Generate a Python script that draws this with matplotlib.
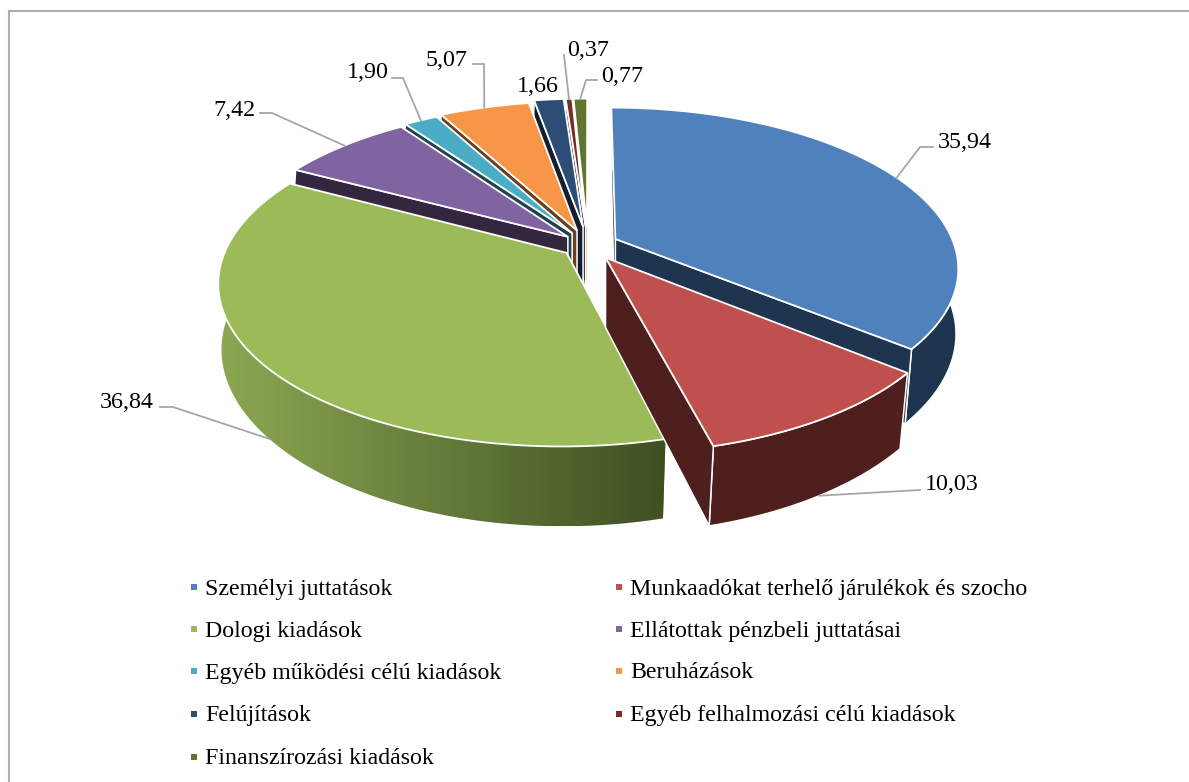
import numpy as np
import matplotlib
matplotlib.use("Agg")
import matplotlib.pyplot as plt
from matplotlib.patches import Polygon, Rectangle
from matplotlib.colors import to_rgb

categories = ["Személyi juttatások", "Munkaadókat terhelő járulékok és szocho",
              "Dologi kiadások", "Ellátottak pénzbeli juttatásai",
              "Egyéb működési célú kiadások", "Beruházások", "Felújítások",
              "Egyéb felhalmozási célú kiadások", "Finanszírozási kiadások"]
values = [35.94, 10.03, 36.84, 7.42, 1.90, 5.07, 1.66, 0.37, 0.77]

top_colors = ["#4F81BD", "#C0504D", "#9BBB59", "#8064A2", "#4BACC6",
              "#F79646", "#2C4D75", "#772C2A", "#5F7530"]
side_colors = ["#1F344F", "#4F1F1E", "#66803A", "#33273F", "#1E4450",
               "#6B3F1C", "#131F30", "#301312", "#3A471D"]
explode = [0.09, 0.095, 0.08, 0.08, 0.09, 0.10, 0.12, 0.12, 0.12]
draw_order = [8, 7, 6, 5, 4, 3, 0, 2, 1]
# which cut face of the slice looks at the viewer, 0 = first edge, -1 = last edge
front_cut = [-1, -1, -1, 0, 0, 0, 0, 0, 0]

# label text position, leader elbow (None = no elbow), rim the leader goes to
label_pos = [(938, 142), (925, 484), (100, 403), (213, 111), (347, 73),
             (426, 60), (517, 86), (567, 50), (601, 76)]
leader_start = [(933, 147), (920, 490), (160, 407), (260, 113), (392, 78),
                (473, 64), None, (564, 55), (597, 80)]
leader_elbow = [(920, 147), None, (173, 407), (272, 113), (403, 78),
                (484, 64), None, None, (586, 80)]
leader_bottom = [False, True, True, False, False, False, False, False, False]

legend_x = [191, 616]
legend_y = [587, 629, 671, 714, 757]

cx, cy = 588, 245
rx, ry = 339, 156.5
persp = 0.176
depth = 69
shrink = 0.976
FONT = "Liberation Serif"


def project(X, Y, bottom=False):
    s = 1 / (1 - persp * Y)
    if bottom:
        return cx + rx * X * s * (0.998 - 0.03 * Y), cy + ry * Y * s * shrink + depth * s
    return cx + rx * X * s, cy + ry * Y * s


def rim(th, ex, mid, bottom=False):
    X = np.sin(th) + ex * np.sin(mid)
    Y = -np.cos(th) - ex * np.cos(mid)
    return project(X, Y, bottom)


fig = plt.figure(figsize=(11.89, 7.82), dpi=100)
ax = fig.add_axes([0, 0, 1, 1])
ax.axis("off")

edges = np.cumsum([0] + values) / 100 * 2 * np.pi
z = 2
for i in draw_order:
    a0, a1 = edges[i], edges[i + 1]
    mid = (a0 + a1) / 2
    ex = explode[i]
    th = np.linspace(a0, a1, 120)
    tx, ty = rim(th, ex, mid)
    bx, by = rim(th, ex, mid, True)
    ax0, ay0 = project(ex * np.sin(mid), -ex * np.cos(mid))
    ax1, ay1 = project(ex * np.sin(mid), -ex * np.cos(mid), True)

    def cut(k):
        return [(ax0, ay0), (tx[k], ty[k]), (bx[k], by[k]), (ax1, ay1)]

    # hidden cut first
    back_k = 0 if front_cut[i] == -1 else -1
    ax.add_patch(Polygon(cut(back_k), closed=True, fc=side_colors[i], ec="none", zorder=z))
    z += 1

    # outer side
    side = np.vstack([np.column_stack([tx, ty]), np.column_stack([bx, by])[::-1]])
    if i == 2:
        p = Polygon(side, closed=True, fc="none", ec="none", zorder=z)
        ax.add_patch(p)
        c0 = np.array(to_rgb("#8CA852"))
        c1 = np.array(to_rgb("#3F4F22"))
        t = np.linspace(0, 1, 256)[None, :, None]
        grad = c0[None, None, :] * (1 - t) + c1[None, None, :] * t
        im = ax.imshow(grad, extent=(side[:, 0].min(), side[:, 0].max(), side[:, 1].max(), side[:, 1].min()),
                       aspect="auto", zorder=z, interpolation="bilinear")
        im.set_clip_path(p)
    else:
        ax.add_patch(Polygon(side, closed=True, fc=side_colors[i], ec="white", lw=1.1, zorder=z))
    z += 1

    # visible cut, green keeps it under its top
    if i != 2:
        ax.add_patch(Polygon(cut(front_cut[i]), closed=True, fc=side_colors[i], ec="white", lw=1.1, zorder=z))
        z += 1

    # top
    top = np.vstack([[(ax0, ay0)], np.column_stack([tx, ty])])
    ax.add_patch(Polygon(top, closed=True, fc=top_colors[i], ec="white", lw=1.3, zorder=z))
    z += 1

# data labels and leaders
for i, v in enumerate(values):
    txt = f"{v:.2f}".replace(".", ",")
    ax.text(label_pos[i][0], label_pos[i][1], txt, family=FONT, fontsize=17.3,
            ha="left", va="center", color="black", zorder=z + 2)
    if leader_start[i] is None:
        continue
    mid = (edges[i] + edges[i + 1]) / 2
    ex_pt = rim(mid, explode[i], mid, leader_bottom[i])
    pts = [leader_start[i]]
    if leader_elbow[i] is not None:
        pts.append(leader_elbow[i])
    pts.append(ex_pt)
    ax.plot([p[0] for p in pts], [p[1] for p in pts], color="#A6A6A6", lw=1.3, zorder=z + 1)

# legend, two columns filled row by row
for i, name in enumerate(categories):
    lx = legend_x[i % 2]
    ly = legend_y[i // 2]
    ax.add_patch(Rectangle((lx, ly - 3), 6, 6, fc=top_colors[i], ec="none", zorder=z))
    ax.text(lx + 14, ly + 2, name, family=FONT, fontsize=17.2, ha="left", va="center", color="black")

# frame of the picture (only top and left show)
ax.plot([8.5, 8.5, 1189], [782, 10.5, 10.5], color="#ADADAD", lw=1.5, zorder=1)

ax.set_xlim(0, 1189)
ax.set_ylim(782, 0)
fig.savefig("out.png", dpi=100, facecolor="white")
